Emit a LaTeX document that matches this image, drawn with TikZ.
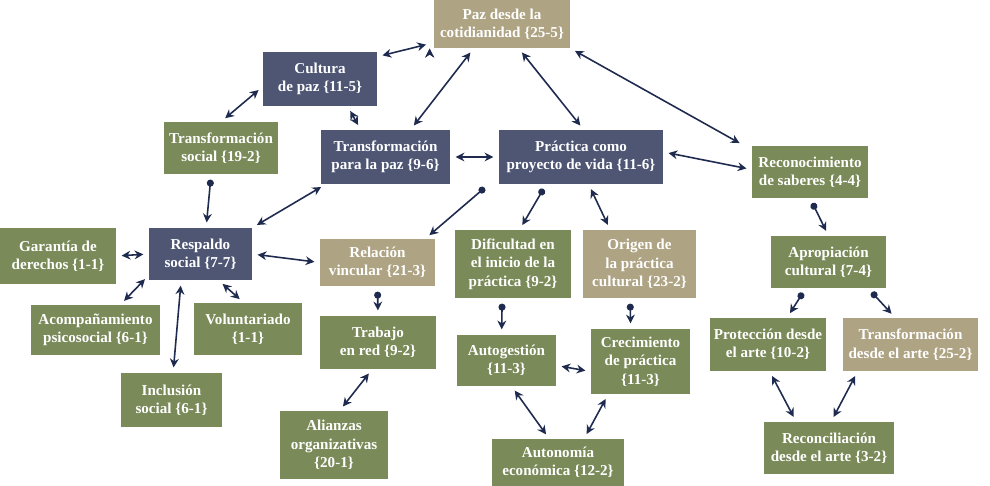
\documentclass[tikz,border=0pt]{standalone}
\usepackage{fontspec}
\setmainfont{Liberation Serif}
\usetikzlibrary{arrows.meta}
\definecolor{navy}{HTML}{4E5674}
\definecolor{grn}{HTML}{7A8A58}
\definecolor{tan}{HTML}{AEA383}
\definecolor{arr}{HTML}{1F2A4F}
\begin{document}
\begin{tikzpicture}[x=0.02cm,y=-0.02cm,
  bx/.style={text=white,font=\fontsize{8.6}{10.5}\selectfont\bfseries,align=center,inner sep=0pt},
  bi/.style={draw=arr,line width=0.9pt,{Stealth[length=5pt,width=5pt]}-{Stealth[length=5pt,width=5pt]},shorten <=3pt,shorten >=3pt},
  di/.style={draw=arr,line width=0.9pt,{Circle[length=4pt]}-{Stealth[length=5pt,width=5pt]},shorten <=3pt,shorten >=3pt}]
\useasboundingbox (0,0) rectangle (990,486);
\newcommand{\bxx}[7]{\fill[#6] (#2,#3) rectangle (#4,#5); \node[bx,minimum width={(#4-#2)*0.02cm},minimum height={(#5-#3)*0.02cm}] (#1) at ({(#2+#4)/2},{(#3+#5)/2}) {#7};}
\bxx{paz}{434}{0}{570}{48}{tan}{Paz desde la\\cotidianidad \{25-5\}}
\bxx{cul}{263}{52}{377}{106}{navy}{Cultura\\de paz \{11-5\}}
\bxx{tso}{164}{122}{278}{174}{grn}{Transformación\\social \{19-2\}}
\bxx{tpa}{321}{130}{450}{184}{navy}{Transformación\\para la paz \{9-6\}}
\bxx{pra}{499}{130}{663}{184}{navy}{Práctica como\\proyecto de vida \{11-6\}}
\bxx{rec}{752}{146}{868}{198}{grn}{Reconocimiento\\de saberes \{4-4\}}
\bxx{gar}{0}{228}{116}{284}{grn}{Garantía de\\derechos \{1-1\}}
\bxx{res}{149}{228}{252}{280}{navy}{Respaldo\\social \{7-7\}}
\bxx{rel}{320}{239}{435}{286}{tan}{Relación\\vincular \{21-3\}}
\bxx{dif}{455}{230}{571}{298}{grn}{Dificultad en\\el inicio de la\\práctica \{9-2\}}
\bxx{ori}{583}{230}{696}{298}{tan}{Origen de\\la práctica\\cultural \{23-2\}}
\bxx{apr}{771}{236}{886}{288}{grn}{Apropiación\\cultural \{7-4\}}
\bxx{aco}{31}{305}{160}{355}{grn}{Acompañamiento\\psicosocial \{6-1\}}
\bxx{vol}{194}{303}{302}{355}{grn}{Voluntariado\\\{1-1\}}
\bxx{tra}{320}{316}{436}{369}{grn}{Trabajo\\en red \{9-2\}}
\bxx{aut}{457}{335}{556}{386}{grn}{Autogestión\\\{11-3\}}
\bxx{cre}{591}{329}{690}{394}{grn}{Crecimiento\\de práctica\\\{11-3\}}
\bxx{pro}{710}{318}{826}{371}{grn}{Protección desde\\el arte \{10-2\}}
\bxx{tar}{843}{318}{978}{371}{tan}{Transformación\\desde el arte \{25-2\}}
\bxx{inc}{121}{373}{222}{427}{grn}{Inclusión\\social \{6-1\}}
\bxx{ali}{280}{411}{388}{479}{grn}{Alianzas\\organizativas\\\{20-1\}}
\bxx{ato}{492}{439}{624}{486}{grn}{Autonomía\\económica \{12-2\}}
\bxx{rcn}{764}{422}{894}{474}{grn}{Reconciliación\\desde el arte \{3-2\}}
\draw[bi] (paz.south west) ++(-4,-5) coordinate (p1);
\draw[bi] ([yshift=-0.1cm]cul.north east) -- ([yshift=0.1cm,xshift=-0.05cm]paz.south west);
\draw[bi] ([xshift=0.8cm]paz.south west) -- ([xshift=1.8cm]tpa.north west);
\draw[bi] ([xshift=1.7cm]paz.south west) -- ([xshift=1.7cm]pra.north west);
\draw[bi] (paz.south east) -- ([xshift=-0.15cm]rec.north west);
\draw[bi] ([yshift=-0.7cm]cul.north west) -- ([xshift=1.15cm]tso.north west);
\draw[bi] ([xshift=1.7cm]cul.south west) -- ([xshift=0.8cm]tpa.north west);
\draw[bi] (tpa.east) -- (pra.west);
\draw[bi] ([yshift=0.1cm]pra.east) -- ([yshift=0.05cm]rec.west);
\draw[di] ([xshift=0.95cm]tso.south west) -- ([xshift=1.15cm]res.north west);
\draw[bi] ([xshift=0.1cm]tpa.south west) -- (res.north east);
\draw[di] ([xshift=-0.2cm]pra.south west) -- ([xshift=-0.2cm]rel.north east);
\draw[di] ([xshift=0.95cm]pra.south west) -- ([xshift=1.3cm]dif.north west);
\draw[bi] ([xshift=1.8cm]pra.south west) -- ([xshift=0.55cm]ori.north west);
\draw[di] (rec.south) -- (apr.north);
\draw[bi] (res.west) -- (gar.east);
\draw[bi] (res.east) -- (rel.west);
\draw[bi] ([yshift=0.1cm]res.south west) -- ([xshift=-0.8cm]aco.north east);
\draw[bi] ([xshift=1.4cm]res.south west) -- ([xshift=1cm]vol.north west);
\draw[bi] ([xshift=0.65cm]res.south west) -- ([xshift=1.05cm]inc.north west);
\draw[di] (rel.south) -- (tra.north);
\draw[di] ([xshift=0.95cm]dif.south west) -- ([xshift=0.9cm]aut.north west);
\draw[di] ([xshift=0.95cm]ori.south west) -- ([xshift=0.8cm]cre.north west);
\draw[bi] ([yshift=-0.1cm]aut.east) -- ([yshift=-0.2cm]cre.west);
\draw[bi] ([xshift=1.05cm]tra.south west) -- ([xshift=1.2cm]ali.north west);
\draw[bi] ([xshift=1.1cm]aut.south west) -- ([xshift=1.15cm]ato.north west);
\draw[bi] ([xshift=0.35cm]cre.south west) -- ([xshift=1.85cm]ato.north west);
\draw[di] ([xshift=0.7cm]apr.south west) -- ([xshift=1.55cm]pro.north west);
\draw[di] ([xshift=1.95cm]apr.south west) -- ([xshift=1.05cm]tar.north west);
\draw[bi] ([xshift=1.2cm]pro.south west) -- ([xshift=0.65cm]rcn.north west);
\draw[bi] ([xshift=0.3cm]tar.south west) -- ([xshift=1.35cm]rcn.north west);
\end{tikzpicture}
\end{document}
